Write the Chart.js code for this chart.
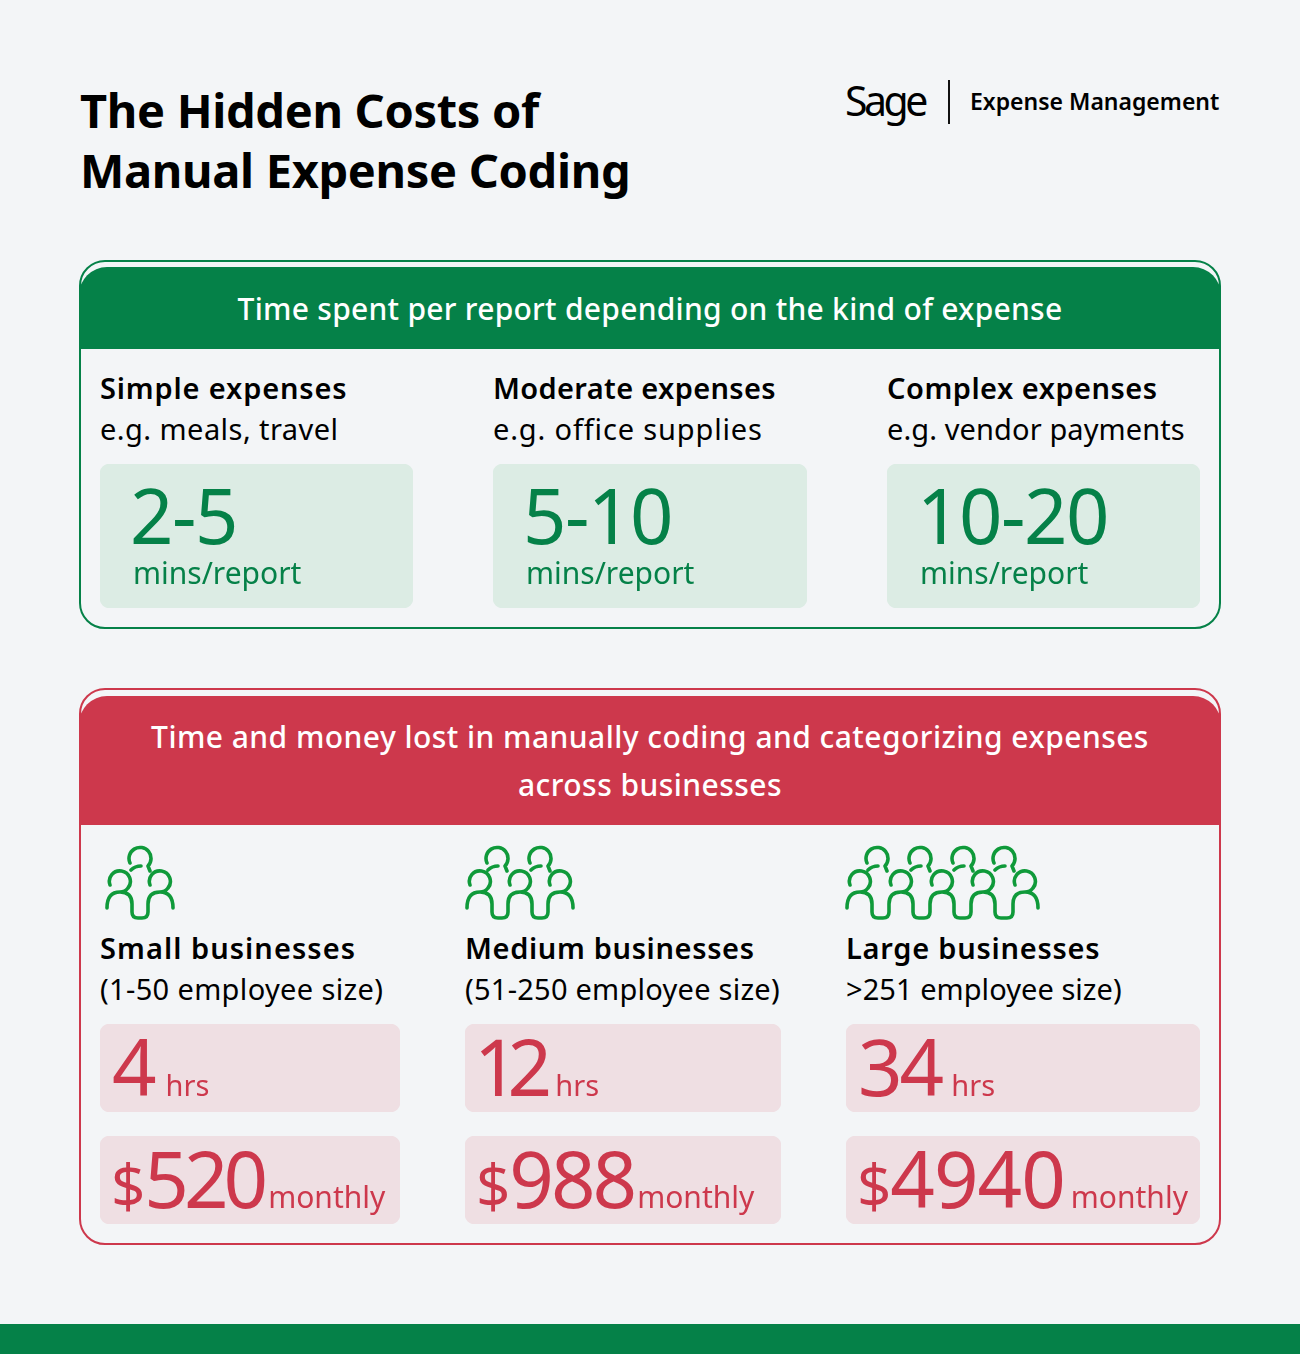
<!DOCTYPE html>
<html>
<head>
<meta charset="utf-8">
<title>The Hidden Costs of Manual Expense Coding</title>
<script src="https://cdn.jsdelivr.net/npm/chart.js@4"></script>
<style>
html,body{margin:0;padding:0;background:#f3f5f7}
#page{position:relative;width:1300px;height:1354px;overflow:hidden;font-family:"Noto Sans",sans-serif;color:#000}
#page div,#page canvas,#page svg{position:absolute}
.title{left:80px;top:80px;font-size:47px;line-height:60px;font-weight:700;letter-spacing:-.33px;white-space:nowrap}
.panel{left:79px;width:1138px;border:2px solid;border-radius:26px}
.band{left:79px;width:1142px;border-radius:28px 28px 0 0;color:#fff;text-align:center;font-size:30px;font-weight:500;letter-spacing:.45px}
.head{font-size:29px;font-weight:600;white-space:nowrap;line-height:40px}
.sub{font-size:29px;font-weight:400;white-space:nowrap;line-height:40px}
</style>
</head>
<body>
<div id="page">
  <div class="title">The Hidden Costs of<br>Manual Expense Coding</div>
  <div style="left:845px;top:71px;font-size:41px;line-height:58px;font-weight:400;letter-spacing:-3.5px">Sage</div>
  <div style="left:948px;top:80px;width:1.5px;height:44px;background:#111"></div>
  <div style="left:970px;top:84px;font-size:23px;line-height:34px;font-weight:600;white-space:nowrap">Expense Management</div>

  <div class="panel" style="top:260px;height:365px;border-color:#058148"></div>
  <div class="band" style="top:267px;height:82px;line-height:84px;background:#058148;letter-spacing:.27px">Time spent per report depending on the kind of expense</div>

  <div class="panel" style="top:688px;height:553px;border-color:#cd384c"></div>
  <div class="band" style="top:696px;height:129px;line-height:48px;background:#cd384c"><span style="display:block;height:17px"></span>Time and money lost in manually coding and categorizing expenses<br>across businesses</div>

  <div style="left:0;top:1324px;width:1300px;height:30px;background:#058148"></div>
</div>
<script>
// values
var expenseKinds = ['Simple expenses', 'Moderate expenses', 'Complex expenses'];
var expenseNotes = ['e.g. meals, travel', 'e.g. office supplies', 'e.g. vendor payments'];
var minsLow = [2, 5, 10];
var minsHigh = [5, 10, 20];
var minsUnit = 'mins/report';

var businessKinds = ['Small businesses', 'Medium businesses', 'Large businesses'];
var businessNotes = ['(1-50 employee size)', '(51-250 employee size)', '>251 employee size)'];
var hoursLost = [4, 12, 34];
var dollarsLost = [520, 988, 4940];
var hoursUnit = 'hrs';
var dollarsUnit = 'monthly';

var page = document.getElementById('page');
var GREEN = '#058148', RED = '#cd384c', GREEN_TILE = '#dcece4', RED_TILE = '#efdfe3';

// draws the value text over the tile, left to right from the bar's own edge
var tileText = {
    id: 'tileText',
    afterDatasetsDraw: function(chart, args, o){
        var ctx = chart.ctx;
        var bar = chart.getDatasetMeta(0).data[0];
        var left = bar.base < bar.x ? bar.base : bar.x;
        var top = bar.y - bar.height / 2;
        var cursor = 0;
        ctx.save();
        ctx.fillStyle = o.color;
        ctx.textBaseline = 'alphabetic';
        o.parts.forEach(function(p){
            var x = left + p.x;
            if(p.after !== undefined){ x = left + cursor + p.after; }
            ctx.font = '400 ' + p.size + 'px "Noto Sans"';
            ctx.letterSpacing = (p.track || 0) + 'px';
            ctx.fillText(p.text, x, top + p.y);
            cursor = x - left + ctx.measureText(p.text).width;
        });
        ctx.restore();
    }
};

function addText(cls, text, x, y, track){
    var d = document.createElement('div');
    d.className = cls;
    d.textContent = text;
    d.style.left = x + 'px';
    d.style.top = y + 'px';
    d.style.letterSpacing = track + 'px';
    page.appendChild(d);
}

function addTile(x, y, w, h, label, low, high, fill, color, parts){
    var c = document.createElement('canvas');
    c.width = w; c.height = h;
    c.style.left = x + 'px'; c.style.top = y + 'px';
    c.style.width = w + 'px'; c.style.height = h + 'px';
    page.appendChild(c);
    new Chart(c, {
        type: 'bar',
        data: {labels: [label], datasets: [{data: [[low, high]], backgroundColor: fill, borderRadius: 10, borderSkipped: false, barPercentage: 1, categoryPercentage: 1}]},
        options: {
            indexAxis: 'y',
            responsive: false,
            animation: false,
            layout: {padding: 0},
            scales: {x: {display: false, min: low, max: high}, y: {display: false}},
            plugins: {legend: {display: false}, tooltip: {enabled: false}, tileText: {color: color, parts: parts}}
        },
        plugins: [tileText]
    });
}

var minX = [100, 493, 887], minW = [313, 314, 313];
var minHeadTrack = [.85, .35, .5], minSubTrack = [.45, .85, .1];
minsLow.forEach(function(v, i){
    addText('head', expenseKinds[i], minX[i], 368, minHeadTrack[i]);
    addText('sub', expenseNotes[i], minX[i], 409, minSubTrack[i]);
    addTile(minX[i], 464, minW[i], 144, expenseKinds[i], v, minsHigh[i], GREEN_TILE, GREEN, [
        {text: v + '-' + minsHigh[i], size: 76, track: -1.5, x: 30, y: 80},
        {text: minsUnit, size: 30, x: 33, y: 120}
    ]);
});

var bizX = [100, 465, 846], bizW = [300, 316, 354];
var bizHeadTrack = [1.05, .65, .75], bizSubTrack = [.35, .25, .05];
// the wide tabular 1 and the wide 4 need their own tracking
var hourTrack = [-3, -11, -3], hourShift = [12, 9, 12], hourGap = [12, 14, 10];
var dollarTrack = [-5, -3, -1], dollarGap = [5, 3, 6];
hoursLost.forEach(function(v, i){
    addText('head', businessKinds[i], bizX[i], 928, bizHeadTrack[i]);
    addText('sub', businessNotes[i], bizX[i], 969, bizSubTrack[i]);
    addTile(bizX[i], 1024, bizW[i], 88, businessKinds[i], 0, v, RED_TILE, RED, [
        {text: String(v), size: 78, track: hourTrack[i], x: hourShift[i], y: 72},
        {text: hoursUnit, size: 29, after: hourGap[i], y: 72}
    ]);
    addTile(bizX[i], 1136, bizW[i], 88, businessKinds[i], 0, dollarsLost[i], RED_TILE, RED, [
        {text: '$', size: 60, x: 11, y: 72},
        {text: String(dollarsLost[i]), size: 78, track: dollarTrack[i], after: -1, y: 72},
        {text: dollarsUnit, size: 30, after: dollarGap[i], y: 72}
    ]);
});

// people icons: heads in the back row and front row
var backHeads = [[140], [497, 540], [877, 920, 963, 1004]];
var frontHeads = [[120, 160], [480, 520, 560], [860, 901, 942, 983, 1025]];
var svg = '<svg xmlns="http://www.w3.org/2000/svg" width="1300" height="1354" viewBox="0 0 1300 1354" style="left:0;top:0" fill="none" stroke="#0f9a3a" stroke-width="3.6" stroke-linecap="round" stroke-linejoin="round">';
var d = '';
backHeads.forEach(function(row, r){
    row.forEach(function(cx){
        d += 'M' + (cx-10) + ' 863A11 11 0 1 1 ' + (cx+8) + ' 866L' + (cx+10) + ' 871';
        d += 'M' + (cx-9) + ' 870Q' + (cx-5) + ' 866 ' + (cx+1) + ' 866';
    });
    var front = frontHeads[r];
    front.forEach(function(cx, i){
        d += 'M' + (cx-10) + ' 885A10.5 10.5 0 1 1 ' + (cx+8) + ' 888Q' + (cx+5) + ' 892 ' + cx + ' 892';
        if(i == 0){ d += 'M' + (cx-13) + ' 908Q' + (cx-13) + ' 892 ' + cx + ' 892'; }
        if(i == front.length - 1){ d += 'M' + cx + ' 892Q' + (cx+13) + ' 892 ' + (cx+13) + ' 908'; }
        if(i < front.length - 1){
            var nx = front[i+1];
            d += 'M' + cx + ' 892Q' + (cx+12) + ' 892 ' + (cx+12) + ' 904V912Q' + (cx+12) + ' 918 ' + (cx+18) + ' 918H' + (nx-18) + 'Q' + (nx-12) + ' 918 ' + (nx-12) + ' 912V904Q' + (nx-12) + ' 892 ' + nx + ' 892';
        }
    });
});
svg += '<path d="' + d + '"/></svg>';
page.insertAdjacentHTML('beforeend', svg);
</script>
</body>
</html>
